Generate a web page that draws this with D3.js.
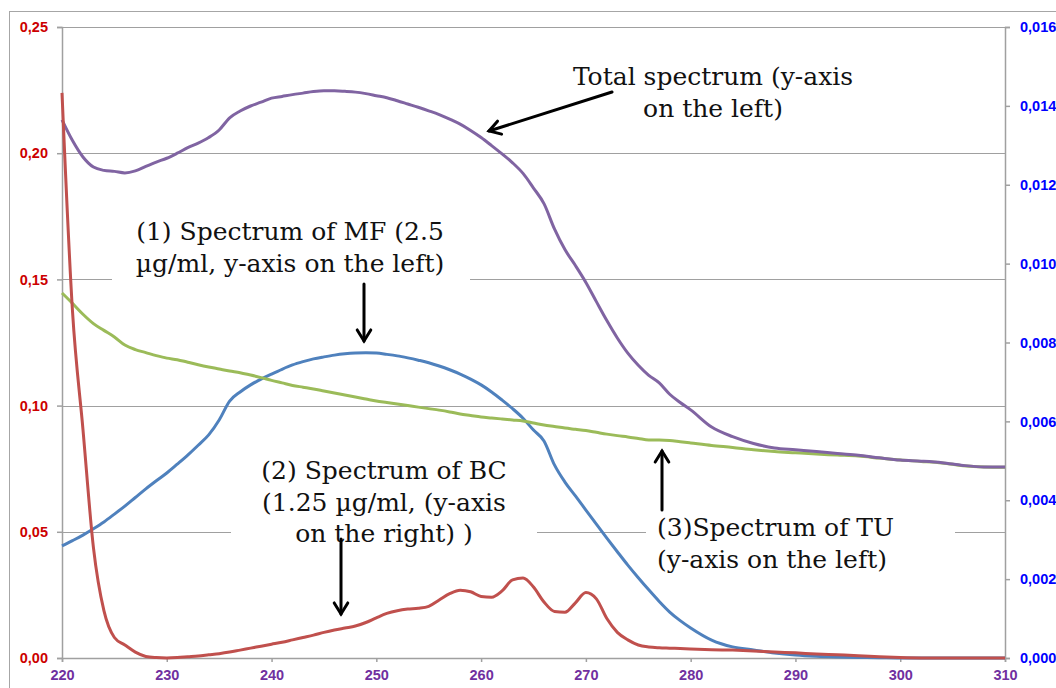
<!DOCTYPE html>
<html>
<head>
<meta charset="utf-8">
<script src="https://cdn.jsdelivr.net/npm/d3@7"></script>
<style>
  body { margin: 0; background: #fff; }
  svg { display: block; }
</style>
</head>
<body>
<div id="chart"></div>
<script>
// wavelengths (nm), 1 nm steps to 280 then 2 nm steps
var wavelength = [220,221,222,223,224,225,226,227,228,229,230,231,232,233,234,235,236,237,238,239,
  240,241,242,243,244,245,246,247,248,249,250,251,252,253,254,255,256,257,258,259,
  260,261,262,263,264,265,266,267,268,269,270,271,272,273,274,275,276,277,278,279,280,
  282,284,286,288,290,292,294,296,298,300,302,304,306,308,310];

// Total spectrum (left axis)
var total = [0.2132,0.2050,0.1985,0.1945,0.1932,0.1928,0.1922,0.1930,0.1948,0.1965,
  0.1980,0.2000,0.2022,0.2040,0.2062,0.2092,0.2140,0.2167,0.2187,0.2202,
  0.2218,0.2225,0.2232,0.2238,0.2244,0.2247,0.2247,0.2245,0.2242,0.2236,
  0.2228,0.2220,0.2208,0.2195,0.2182,0.2168,0.2153,0.2135,0.2115,0.2090,
  0.2062,0.2030,0.1997,0.1962,0.1920,0.1862,0.1800,0.1700,0.1618,0.1555,
  0.1488,0.1412,0.1337,0.1268,0.1208,0.1160,0.1120,0.1090,0.1045,0.1012,0.0983,
  0.0915,0.0877,0.0850,0.0832,0.0825,0.0818,0.0810,0.0803,0.0793,0.0784,0.0780,0.0774,0.0763,0.0757,0.0757];

// (1) MF (left axis)
var mf = [0.0444,0.0465,0.0487,0.0512,0.0539,0.0570,0.0602,0.0636,0.0670,0.0702,
  0.0733,0.0768,0.0804,0.0843,0.0884,0.0943,0.1018,0.1054,0.1082,0.1105,
  0.1125,0.1144,0.1161,0.1174,0.1185,0.1193,0.1200,0.1205,0.1208,0.1209,
  0.1208,0.1203,0.1197,0.1189,0.1180,0.1170,0.1157,0.1142,0.1125,0.1105,
  0.1082,0.1054,0.1022,0.0988,0.0950,0.0903,0.0860,0.0765,0.0697,0.0642,
  0.0586,0.0530,0.0475,0.0421,0.0368,0.0318,0.0270,0.0224,0.0182,0.0148,0.0119,
  0.0071,0.0044,0.0032,0.0020,0.0012,0.0007,0.0004,0.0002,0.0001,0,0,0,0,0,0];

// (3) TU (left axis)
var tu = [0.1446,0.1405,0.1362,0.1325,0.1298,0.1272,0.1240,0.1222,0.1210,0.1198,
  0.1188,0.1182,0.1172,0.1162,0.1153,0.1145,0.1137,0.1130,0.1121,0.1111,
  0.1100,0.1090,0.1080,0.1073,0.1066,0.1058,0.1050,0.1042,0.1034,0.1026,
  0.1018,0.1012,0.1006,0.1000,0.0994,0.0988,0.0982,0.0975,0.0967,0.0961,
  0.0955,0.0951,0.0947,0.0943,0.0939,0.0931,0.0923,0.0917,0.0911,0.0906,
  0.0901,0.0894,0.0887,0.0881,0.0876,0.0870,0.0864,0.0864,0.0862,0.0857,0.0852,
  0.0842,0.0834,0.0825,0.0818,0.0813,0.0808,0.0804,0.0800,0.0792,0.0784,0.0779,0.0773,0.0762,0.0757,0.0756];

// (2) BC (right axis)
var bc = [0.01433,0.00880,0.00580,0.00280,0.00120,0.00052,0.00033,0.00015,0.00004,0.00001,
  0.00000,0.00001,0.00003,0.00005,0.00008,0.00011,0.00015,0.00020,0.00025,0.00030,
  0.00035,0.00040,0.00046,0.00052,0.00058,0.00065,0.00071,0.00076,0.00081,0.00090,
  0.00102,0.00113,0.00120,0.00124,0.00126,0.00131,0.00147,0.00163,0.00172,0.00168,
  0.00156,0.00154,0.00170,0.00198,0.00203,0.00180,0.00142,0.00118,0.00116,0.00140,
  0.00166,0.00150,0.00100,0.00065,0.00046,0.00033,0.00028,0.00026,0.00025,0.00024,0.00023,
  0.00021,0.00020,0.00018,0.00015,0.00013,0.00010,0.00008,0.00006,0.00003,0.00001,0,0,0,0,0];

var xTicks = [220,230,240,250,260,270,280,290,300,310];
var leftTicks = [0,0.05,0.10,0.15,0.20,0.25];
var rightTicks = [0,0.002,0.004,0.006,0.008,0.010,0.012,0.014,0.016];

var w = 1056, h = 688;
var margin = {top: 27, right: 51, bottom: 30, left: 62};

var svg = d3.select("#chart").append("svg")
  .attr("width", w)
  .attr("height", h);

// outer chart border
svg.append("rect")
  .attr("x", 9.5).attr("y", 11.5)
  .attr("width", w).attr("height", h)
  .attr("fill", "none")
  .attr("stroke", "#a6a6a6");

var x = d3.scaleLinear().domain([220, 310]).range([margin.left, w - margin.right]);
var yL = d3.scaleLinear().domain([0, 0.25]).range([h - margin.bottom, margin.top]);
var yR = d3.scaleLinear().domain([0, 0.016]).range([h - margin.bottom, margin.top]);

function comma(f) {
  return function(d) { return d3.format(f)(d).replace(".", ","); };
}

// horizontal gridlines
svg.append("g")
  .selectAll("line")
  .data(leftTicks.slice(1))
  .enter().append("line")
  .attr("x1", x(220)).attr("x2", x(310))
  .attr("y1", function(d) { return Math.round(yL(d)) + 0.5; })
  .attr("y2", function(d) { return Math.round(yL(d)) + 0.5; })
  .attr("stroke", "#a0a0a0");

// axes
var gL = svg.append("g")
  .attr("transform", "translate(" + margin.left + ",0)")
  .call(d3.axisLeft(yL).tickValues(leftTicks).tickSize(5).tickPadding(9).tickFormat(comma(".2f")));
gL.selectAll("text").attr("fill", "#cc0000");

var gR = svg.append("g")
  .attr("transform", "translate(" + (w - margin.right) + ",0)")
  .call(d3.axisRight(yR).tickValues(rightTicks).tickSize(5).tickPadding(10).tickFormat(comma(".3f")));
gR.selectAll("text").attr("fill", "#0000ff");

var gB = svg.append("g")
  .attr("transform", "translate(0," + (h - margin.bottom) + ")")
  .call(d3.axisBottom(x).tickValues(xTicks).tickSize(4).tickPadding(8).tickFormat(d3.format("d")));
gB.selectAll("text").attr("fill", "#7030a0");

svg.selectAll(".domain, .tick line").attr("stroke", "#a0a0a0").attr("stroke-width", 1.5);
svg.selectAll(".tick text")
  .attr("font-family", "'Liberation Sans', Arial, sans-serif")
  .attr("font-weight", "bold")
  .attr("font-size", "14.5px");

// series lines
function lineFor(values, y) {
  return d3.line()
    .x(function(d, i) { return x(wavelength[i]); })
    .y(function(d) { return y(d); })
    .curve(d3.curveMonotoneX)(values);
}

var series = [
  {values: mf, y: yL, color: "#4f81bd"},
  {values: tu, y: yL, color: "#9bbb59"},
  {values: total, y: yL, color: "#8064a2"},
  {values: bc, y: yR, color: "#c0504d"}
];

svg.append("g")
  .selectAll("path")
  .data(series)
  .enter().append("path")
  .attr("d", function(s) { return lineFor(s.values, s.y); })
  .attr("fill", "none")
  .attr("stroke", function(s) { return s.color; })
  .attr("stroke-width", 3)
  .attr("stroke-linejoin", "round");

// annotation boxes and text
var notes = [
  {box: [560, 58, 310, 68], anchor: "middle", tx: 713, ty: 85,
    lines: ["Total spectrum (y-axis", "on the left)"]},
  {box: [112, 212, 358, 76], anchor: "middle", tx: 290, ty: 240,
    lines: ["(1) Spectrum of MF (2.5", "µg/ml, y-axis on the left)"]},
  {box: [231, 452, 306, 100], anchor: "middle", tx: 384, ty: 479,
    lines: ["(2) Spectrum of BC", "(1.25 µg/ml, (y-axis", "on the right) )"]},
  {box: [646, 510, 309, 70], anchor: "start", tx: 657, ty: 536,
    lines: ["(3)Spectrum of TU", "(y-axis on the left)"]}
];

var noteG = svg.append("g").selectAll("g")
  .data(notes)
  .enter().append("g");

noteG.append("rect")
  .attr("x", function(d) { return d.box[0]; })
  .attr("y", function(d) { return d.box[1]; })
  .attr("width", function(d) { return d.box[2]; })
  .attr("height", function(d) { return d.box[3]; })
  .attr("fill", "#fff");

noteG.each(function(d) {
  var t = d3.select(this).append("text")
    .attr("font-family", "'DejaVu Serif', serif")
    .attr("font-size", "25px")
    .attr("fill", "#111")
    .attr("text-anchor", d.anchor);
  d.lines.forEach(function(l, i) {
    t.append("tspan").attr("x", d.tx).attr("y", d.ty + i * 31.5).text(l);
  });
});

// arrows
var arrows = [
  [612, 92, 489, 131],
  [364, 284, 364, 341],
  [341, 539, 341, 614],
  [662, 510, 662, 451]
];

var arrowG = svg.append("g")
  .attr("stroke", "#000")
  .attr("stroke-width", 3)
  .attr("fill", "none")
  .attr("stroke-linecap", "round")
  .attr("stroke-linejoin", "miter");

arrows.forEach(function(a) {
  arrowG.append("line")
    .attr("x1", a[0]).attr("y1", a[1])
    .attr("x2", a[2]).attr("y2", a[3]);
  var ang = Math.atan2(a[3] - a[1], a[2] - a[0]);
  var len = 13, spread = 0.55;
  var p1 = [a[2] - len * Math.cos(ang - spread), a[3] - len * Math.sin(ang - spread)];
  var p2 = [a[2] - len * Math.cos(ang + spread), a[3] - len * Math.sin(ang + spread)];
  arrowG.append("path")
    .attr("d", "M" + p1 + "L" + a[2] + "," + a[3] + "L" + p2);
});
</script>
</body>
</html>
